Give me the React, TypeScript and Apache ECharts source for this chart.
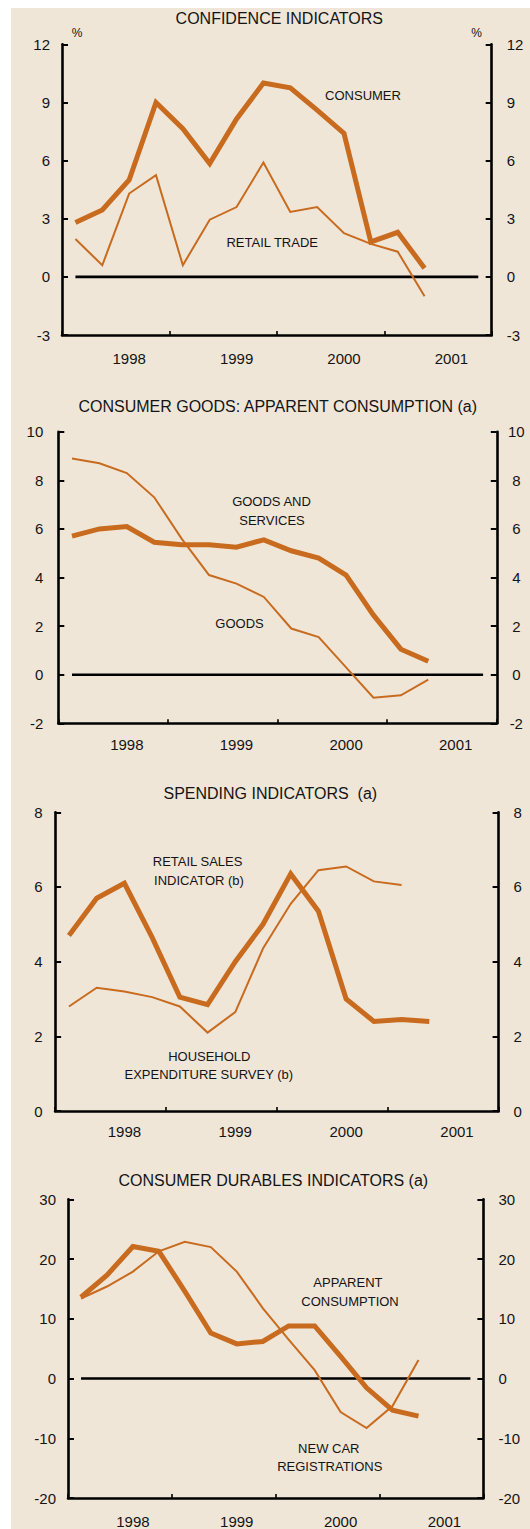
import React, { useEffect, useRef } from "react";
import * as echarts from "echarts";

// Quarterly categories (4 per year); labels shown once per year
const quarters = [
  "1998Q1", "1998Q2", "1998Q3", "1998Q4",
  "1999Q1", "1999Q2", "1999Q3", "1999Q4",
  "2000Q1", "2000Q2", "2000Q3", "2000Q4",
  "2001Q1", "2001Q2", "2001Q3", "2001Q4",
];

// Reference zero line across the plotted span
const zeroLine = [0, 0, 0, 0, 0, 0, 0, 0, 0, 0, 0, 0, 0, 0, 0, 0];

// Panel 1: Confidence indicators (%)
const consumerConfidence = [2.8, 3.45, 5.0, 9.0, 7.65, 5.85, 8.15, 10.0, 9.75, 8.6, 7.4, 1.8, 2.3, 0.45];
const retailTradeConfidence = [1.95, 0.6, 4.3, 5.25, 0.6, 2.95, 3.6, 5.9, 3.35, 3.6, 2.25, 1.7, 1.3, -1.0];

// Panel 2: Consumer goods apparent consumption
const goodsAndServices = [5.7, 6.0, 6.1, 5.45, 5.35, 5.35, 5.25, 5.55, 5.1, 4.8, 4.1, 2.45, 1.05, 0.55];
const goods = [8.9, 8.7, 8.3, 7.3, 5.6, 4.1, 3.75, 3.2, 1.9, 1.55, 0.3, -0.95, -0.85, -0.2];

// Panel 3: Spending indicators
const retailSalesIndicator = [4.7, 5.7, 6.1, 4.65, 3.05, 2.85, 4.0, 5.0, 6.35, 5.35, 3.0, 2.4, 2.45, 2.4];
const householdExpenditure = [2.8, 3.3, 3.2, 3.05, 2.8, 2.1, 2.65, 4.35, 5.55, 6.45, 6.55, 6.15, 6.05];

// Panel 4: Consumer durables indicators
const apparentConsumption = [13.6, 17.3, 22.1, 21.3, 14.6, 7.6, 5.8, 6.2, 8.8, 8.8, 3.7, -1.55, -5.3, -6.3];
const newCarRegistrations = [13.4, 15.4, 17.9, 21.3, 22.9, 22.0, 17.9, 11.8, 6.5, 1.4, -5.6, -8.3, -4.6, 3.1];

// Axis ranges per panel [min, max, interval]
const yRanges = [
  [-3, 12, 3],
  [-2, 10, 2],
  [0, 8, 2],
  [-20, 30, 10],
];

const FONT = '"Liberation Sans", Arial, Helvetica, sans-serif';
const ORANGE = "#C86B1E";
const INK = "#141414";

export default function App() {
  const ref = useRef<HTMLDivElement>(null);

  useEffect(() => {
    if (!ref.current) return;
    const chart = echarts.init(ref.current, null, { renderer: "svg" });

    const grids = [
      { left: 51, top: 36.3, width: 429.7, height: 290.7 },
      { left: 47.3, top: 423.7, width: 438.5, height: 291.6 },
      { left: 44.1, top: 804.3, width: 443.5, height: 298.7 },
      { left: 57, top: 1191.3, width: 415.4, height: 299.4 },
    ];
    const xLabelMargin = [16, 14, 13, 16];
    const leftMargin = [12, 15, 12.5, 12];
    const rightMargin = [15, 19.5, 15, 15];
    const rightAlign = ["left", "center", "left", "left"];

    const xAxis = grids.map((_, i) => ({
      type: "category",
      gridIndex: i,
      data: quarters,
      boundaryGap: true,
      axisLine: { show: true, onZero: false, lineStyle: { color: "#000", width: 2.6 } },
      axisTick: {
        show: true,
        inside: true,
        length: 4,
        interval: (idx: number) => idx % 4 === 0,
        lineStyle: { color: "#000", width: 1.6 },
      },
      axisLabel: {
        show: true,
        interval: (idx: number) => idx % 4 === 2,
        formatter: (v: string) => v.slice(0, 4),
        color: INK,
        fontFamily: FONT,
        fontSize: 15,
        margin: xLabelMargin[i],
      },
      splitLine: { show: false },
    }));

    const yAxis: any[] = [];
    grids.forEach((_, i) => {
      const [min, max, interval] = yRanges[i];
      ["left", "right"].forEach((pos) => {
        yAxis.push({
          type: "value",
          gridIndex: i,
          position: pos,
          min,
          max,
          interval,
          axisLine: { show: true, onZero: false, lineStyle: { color: "#000", width: 2.6 } },
          axisTick: { show: true, inside: true, length: 6, lineStyle: { color: "#000", width: 2 } },
          axisLabel: {
            show: true,
            color: INK,
            fontFamily: FONT,
            fontSize: 15,
            margin: pos === "left" ? leftMargin[i] : rightMargin[i],
            align: pos === "left" ? "right" : rightAlign[i],
          },
          splitLine: { show: false },
        });
      });
    });

    const line = (data: number[], panel: number, width: number, z: number, name: string) => ({
      type: "line",
      name,
      xAxisIndex: panel,
      yAxisIndex: panel * 2,
      data,
      symbol: "none",
      showSymbol: false,
      smooth: false,
      z,
      lineStyle: { color: ORANGE, width, join: "miter", cap: "butt" },
      itemStyle: { color: ORANGE },
      silent: true,
    });
    const zero = (panel: number) => ({
      type: "line",
      name: "zero",
      xAxisIndex: panel,
      yAxisIndex: panel * 2,
      data: zeroLine,
      symbol: "none",
      showSymbol: false,
      z: 1,
      lineStyle: { color: "#000", width: 2.6, cap: "butt" },
      silent: true,
    });

    const series = [
      zero(0),
      line(retailTradeConfidence, 0, 2, 2, "Retail trade"),
      line(consumerConfidence, 0, 5, 3, "Consumer"),
      zero(1),
      line(goods, 1, 2, 2, "Goods"),
      line(goodsAndServices, 1, 5, 3, "Goods and services"),
      line(householdExpenditure, 2, 2, 2, "Household expenditure survey"),
      line(retailSalesIndicator, 2, 5, 3, "Retail sales indicator"),
      zero(3),
      line(newCarRegistrations, 3, 2, 2, "New car registrations"),
      line(apparentConsumption, 3, 5, 3, "Apparent consumption"),
    ];

    const txt = (text: string, x: number, y: number, size: number) => ({
      type: "text",
      x,
      y,
      silent: true,
      z: 10,
      style: {
        text,
        fill: INK,
        font: `${size}px ${FONT}`,
        textAlign: "center",
        textVerticalAlign: "middle",
        align: "center",
        verticalAlign: "middle",
      },
    });

    const graphic = [
      txt("CONFIDENCE INDICATORS", 268.3, 10.7, 16),
      txt("CONSUMER GOODS: APPARENT CONSUMPTION (a)", 266.7, 398.3, 16),
      txt("SPENDING INDICATORS  (a)", 259.3, 785.3, 16),
      txt("CONSUMER DURABLES INDICATORS (a)", 262.3, 1172.5, 16),
      txt("%", 66.2, 24.5, 12),
      txt("%", 465.7, 25, 12),
      txt("CONSUMER", 352, 87.3, 13),
      txt("RETAIL TRADE", 261.2, 234.3, 13),
      txt("GOODS AND", 260.5, 493.7, 13),
      txt("SERVICES", 261, 512.3, 13),
      txt("GOODS", 228.5, 615.3, 13),
      txt("RETAIL SALES", 186.6, 853.2, 13),
      txt("INDICATOR (b)", 188, 872, 13),
      txt("HOUSEHOLD", 198.3, 1048.3, 13),
      txt("EXPENDITURE SURVEY (b)", 197.8, 1066.7, 13),
      txt("APPARENT", 336.9, 1274, 13),
      txt("CONSUMPTION", 339, 1293.3, 13),
      txt("NEW CAR", 317.8, 1440, 13),
      txt("REGISTRATIONS", 318.8, 1458.3, 13),
    ];

    chart.setOption({
      animation: false,
      backgroundColor: "#EFE6D8",
      textStyle: { fontFamily: FONT },
      grid: grids.map((g) => ({ ...g, containLabel: false })),
      xAxis,
      yAxis,
      series,
      graphic,
    });

    return () => chart.dispose();
  }, []);

  return (
    <div
      ref={ref}
      style={{ position: "absolute", left: 11, top: 8, width: 519, height: 1521 }}
    />
  );
}
